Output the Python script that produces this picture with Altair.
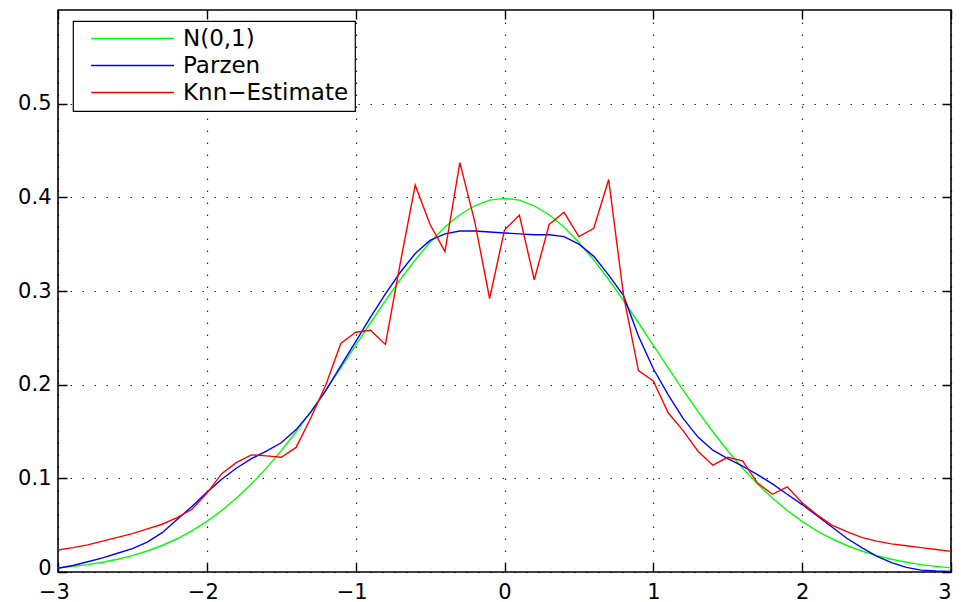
import altair as alt
import pandas as pd

x_values = [-3.0, -2.9, -2.8, -2.7, -2.6, -2.5, -2.4, -2.3, -2.2, -2.1,
            -2.0, -1.9, -1.8, -1.7, -1.6, -1.5, -1.4, -1.3, -1.2, -1.1,
            -1.0, -0.9, -0.8, -0.7, -0.6, -0.5, -0.4, -0.3, -0.2, -0.1,
            0.0, 0.1, 0.2, 0.3, 0.4, 0.5, 0.6, 0.7, 0.8, 0.9,
            1.0, 1.1, 1.2, 1.3, 1.4, 1.5, 1.6, 1.7, 1.8, 1.9,
            2.0, 2.1, 2.2, 2.3, 2.4, 2.5, 2.6, 2.7, 2.8, 2.9, 3.0]

normal_pdf = [0.0044, 0.0060, 0.0079, 0.0104, 0.0136, 0.0175, 0.0224, 0.0283, 0.0355, 0.0440,
              0.0540, 0.0656, 0.0790, 0.0940, 0.1109, 0.1295, 0.1497, 0.1714, 0.1942, 0.2179,
              0.2420, 0.2661, 0.2897, 0.3123, 0.3332, 0.3521, 0.3683, 0.3814, 0.3910, 0.3970,
              0.3989, 0.3970, 0.3910, 0.3814, 0.3683, 0.3521, 0.3332, 0.3123, 0.2897, 0.2661,
              0.2420, 0.2179, 0.1942, 0.1714, 0.1497, 0.1295, 0.1109, 0.0940, 0.0790, 0.0656,
              0.0540, 0.0440, 0.0355, 0.0283, 0.0224, 0.0175, 0.0136, 0.0104, 0.0079, 0.0060, 0.0044]

parzen = [0.004, 0.007, 0.011, 0.015, 0.020, 0.025, 0.032, 0.042, 0.056, 0.070,
          0.085, 0.099, 0.111, 0.121, 0.129, 0.138, 0.152, 0.171, 0.194, 0.220,
          0.246, 0.272, 0.297, 0.320, 0.340, 0.354, 0.361, 0.364, 0.364, 0.363,
          0.362, 0.361, 0.360, 0.360, 0.358, 0.350, 0.337, 0.317, 0.295, 0.252,
          0.217, 0.189, 0.164, 0.144, 0.130, 0.121, 0.113, 0.104, 0.094, 0.083,
          0.072, 0.060, 0.048, 0.036, 0.026, 0.017, 0.010, 0.005, 0.002, 0.001, 0.0005]

knn = [0.0235, 0.026, 0.029, 0.033, 0.037, 0.041, 0.046, 0.051, 0.058, 0.067,
       0.084, 0.105, 0.117, 0.125, 0.124, 0.1225, 0.133, 0.165, 0.200, 0.244,
       0.256, 0.258, 0.243, 0.330, 0.413, 0.371, 0.342, 0.437, 0.374, 0.292,
       0.365, 0.381, 0.312, 0.371, 0.384, 0.358, 0.367, 0.419, 0.295, 0.215,
       0.204, 0.170, 0.151, 0.129, 0.114, 0.1225, 0.1186, 0.095, 0.083, 0.091,
       0.074, 0.061, 0.050, 0.043, 0.037, 0.033, 0.030, 0.028, 0.026, 0.024, 0.022]

series_names = ["N(0,1)", "Parzen", "Knn\u2212Estimate"]
series_colors = ["#00ff00", "#0000ff", "#ff0000"]
x_ticks = [-3, -2, -1, 0, 1, 2, 3]
y_ticks = [0, 0.1, 0.2, 0.3, 0.4, 0.5]

rows = []
for k, (name, ys) in enumerate(zip(series_names, [normal_pdf, parzen, knn])):
    for xv, yv in zip(x_values, ys):
        rows.append({"x": xv, "y": yv, "series": name, "k": k})
df = pd.DataFrame(rows)

W, H = 893, 562
TICK = 9
FONT = "DejaVu Sans"
LFONT = 23

xscale = alt.Scale(domain=[-3, 3], nice=False, zero=False)
yscale = alt.Scale(domain=[0, 0.6], nice=False, zero=False)

x_label_align = alt.condition("datum.value >= 3", alt.value("right"), alt.value("center"))
x_label_offset = alt.condition("datum.value < 0", alt.value(-4), alt.value(0))
y_label_offset = alt.condition("datum.value == 0", alt.value(-4), alt.value(0))

lines = alt.Chart(df).mark_line(strokeWidth=1.4).encode(
    x=alt.X("x:Q", scale=xscale, axis=alt.Axis(
        values=x_ticks, title=None, grid=True, gridDash=[1.5, 10.5], gridColor="black",
        gridOpacity=0.85, gridWidth=1.2, ticks=False, domain=False, labelFontSize=21, labelFont=FONT,
        labelColor="black", labelPadding=9, labelFlush=False, labelOverlap=False,
        labelAlign=x_label_align, labelOffset=x_label_offset, format="d")),
    y=alt.Y("y:Q", scale=yscale, axis=alt.Axis(
        values=y_ticks, title=None, grid=True, gridDash=[1.5, 10.5], gridColor="black",
        gridOpacity=0.85, gridWidth=1.2, ticks=False, domain=False, labelFontSize=21, labelFont=FONT,
        labelColor="black", labelPadding=7, labelFlush=False, labelOverlap=False,
        labelOffset=y_label_offset, format="~g")),
    color=alt.Color("series:N", sort=series_names,
                    scale=alt.Scale(domain=series_names, range=series_colors),
                    legend=alt.Legend(orient="none", legendX=15, legendY=11, title=None,
                                      strokeColor="black", fillColor="white", padding=6,
                                      symbolType="M-1,0H7", symbolSize=430, symbolStrokeWidth=1.4,
                                      symbolFillColor="transparent",
                                      labelFontSize=LFONT, labelFont=FONT, labelColor="black",
                                      labelOffset=70, rowPadding=3, symbolOffset=11,
                                      labelLimit=400, cornerRadius=0)),
    order=alt.Order("k:Q"),
)

ticks_layer = alt.Chart(df).mark_line(opacity=0).encode(
    x=alt.X("x:Q", scale=xscale, axis=alt.Axis(
        orient="top", values=x_ticks, title=None, labels=False, ticks=False, domain=False,
        grid=True, gridDash=[TICK, H - 2 * TICK, TICK, 2000], gridColor="black",
        gridOpacity=1, gridWidth=1.4)),
    y=alt.Y("y:Q", scale=yscale, axis=alt.Axis(
        orient="right", values=y_ticks, title=None, labels=False, ticks=False, domain=False,
        grid=True, gridDash=[TICK, W - 2 * TICK, TICK, 2000], gridColor="black",
        gridOpacity=1, gridWidth=1.4)),
    detail="series:N",
)

chart = alt.layer(ticks_layer, lines).resolve_axis(
    x="independent", y="independent"
).properties(
    width=W, height=H,
    autosize=alt.AutoSizeParams(type="none"),
    padding={"left": 50, "top": 2, "right": 2, "bottom": 30},
).configure_view(
    stroke="black", strokeWidth=1.6
).configure_legend(
    strokeWidth=1.2
)

chart.save("out.html", embed_options={"renderer": "svg", "actions": False})
